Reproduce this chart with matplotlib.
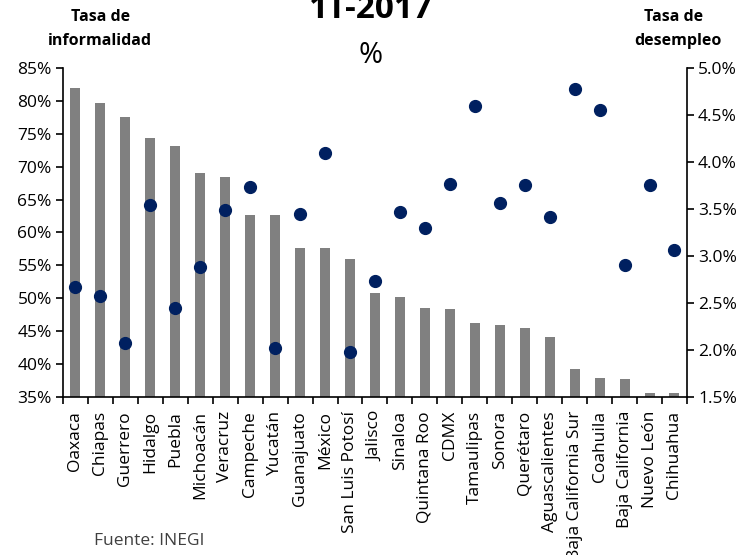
import matplotlib.pyplot as plt
import numpy as np

plt.rcParams['font.family'] = ['Open Sans', 'DejaVu Sans']

# Informalidad (eje izq.) y desempleo (eje der.) por entidad, 1T-2017
estados = ['Oaxaca', 'Chiapas', 'Guerrero', 'Hidalgo', 'Puebla', 'Michoacán',
           'Veracruz', 'Campeche', 'Yucatán', 'Guanajuato', 'México',
           'San Luis Potosí', 'Jalisco', 'Sinaloa', 'Quintana Roo', 'CDMX',
           'Tamaulipas', 'Sonora', 'Querétaro', 'Aguascalientes',
           'Baja California Sur', 'Coahuila', 'Baja California', 'Nuevo León',
           'Chihuahua']
informalidad = [81.9, 79.7, 77.5, 74.4, 73.2, 69.1, 68.4, 62.7, 62.6, 57.6, 57.6,
                56.0, 50.8, 50.2, 48.5, 48.3, 46.3, 45.9, 45.5, 44.1, 39.2, 37.9,
                37.8, 35.6, 35.6]
desempleo = [2.67, 2.57, 2.07, 3.54, 2.45, 2.88, 3.49, 3.73, 2.02, 3.45, 4.10,
             1.98, 2.73, 3.47, 3.30, 3.77, 4.60, 3.56, 3.75, 3.42, 4.78, 4.55,
             2.90, 3.75, 3.06]

x = np.arange(len(estados))

fig = plt.figure(figsize=(7.48, 5.55), dpi=100)
ax = fig.add_axes([0.0842, 0.2847, 0.8342, 0.5928])
ax.bar(x, informalidad, width=0.4, color='#808080', zorder=2)
ax.set_ylim(35, 85)
ax.set_xlim(-0.5, len(estados) - 0.5)
ax.set_yticks(range(35, 86, 5))
ax.set_yticklabels([f'{v}%' for v in range(35, 86, 5)], fontsize=12.5)
ax.set_xticks(x)
ax.set_xticklabels(estados, rotation=90, fontsize=12.5)
ax.tick_params(axis='x', length=0, pad=10)
ax.set_xticks(np.arange(-0.5, len(estados)), minor=True)
ax.tick_params(axis='x', which='minor', length=5, width=1.2, direction='out')
ax.tick_params(axis='y', length=5, width=1.2, direction='out', pad=3)
ax.spines['top'].set_visible(False)
ax.spines['right'].set_visible(False)
for s in ['left', 'bottom']:
    ax.spines[s].set_linewidth(1.2)

ax2 = ax.twinx()
ax2.plot(x, desempleo, 'o', color='#002060', markersize=8.5, zorder=3)
ax2.set_ylim(1.5, 5.0)
yt = np.arange(1.5, 5.01, 0.5)
ax2.set_yticks(yt)
ax2.set_yticklabels([f'{v:.1f}%' for v in yt], fontsize=12.5)
ax2.tick_params(axis='y', length=5, width=1.2, direction='out', pad=3)
ax2.spines['top'].set_visible(False)
ax2.spines['left'].set_visible(False)
ax2.spines['bottom'].set_visible(False)
ax2.spines['right'].set_linewidth(1.2)

fig.text(0.496, 0.967, '1T-2017', ha='center', va='baseline', fontsize=24,
         fontweight='bold')
fig.text(0.496, 0.887, '%', ha='center', va='baseline', fontsize=21)
fig.text(0.134, 0.969, 'Tasa de', ha='center', va='center',
         fontsize=11.5, fontweight='bold')
fig.text(0.134, 0.926, 'informalidad', ha='center', va='center',
         fontsize=11.5, fontweight='bold')
fig.text(0.900, 0.969, 'Tasa de', ha='center', va='center',
         fontsize=11.5, fontweight='bold')
fig.text(0.906, 0.926, 'desempleo', ha='center', va='center',
         fontsize=11.5, fontweight='bold')
fig.text(0.125, 0.025, 'Fuente: INEGI', ha='left', va='center', fontsize=12.5,
         color='#404040')

fig.savefig('out.png', dpi=100)
